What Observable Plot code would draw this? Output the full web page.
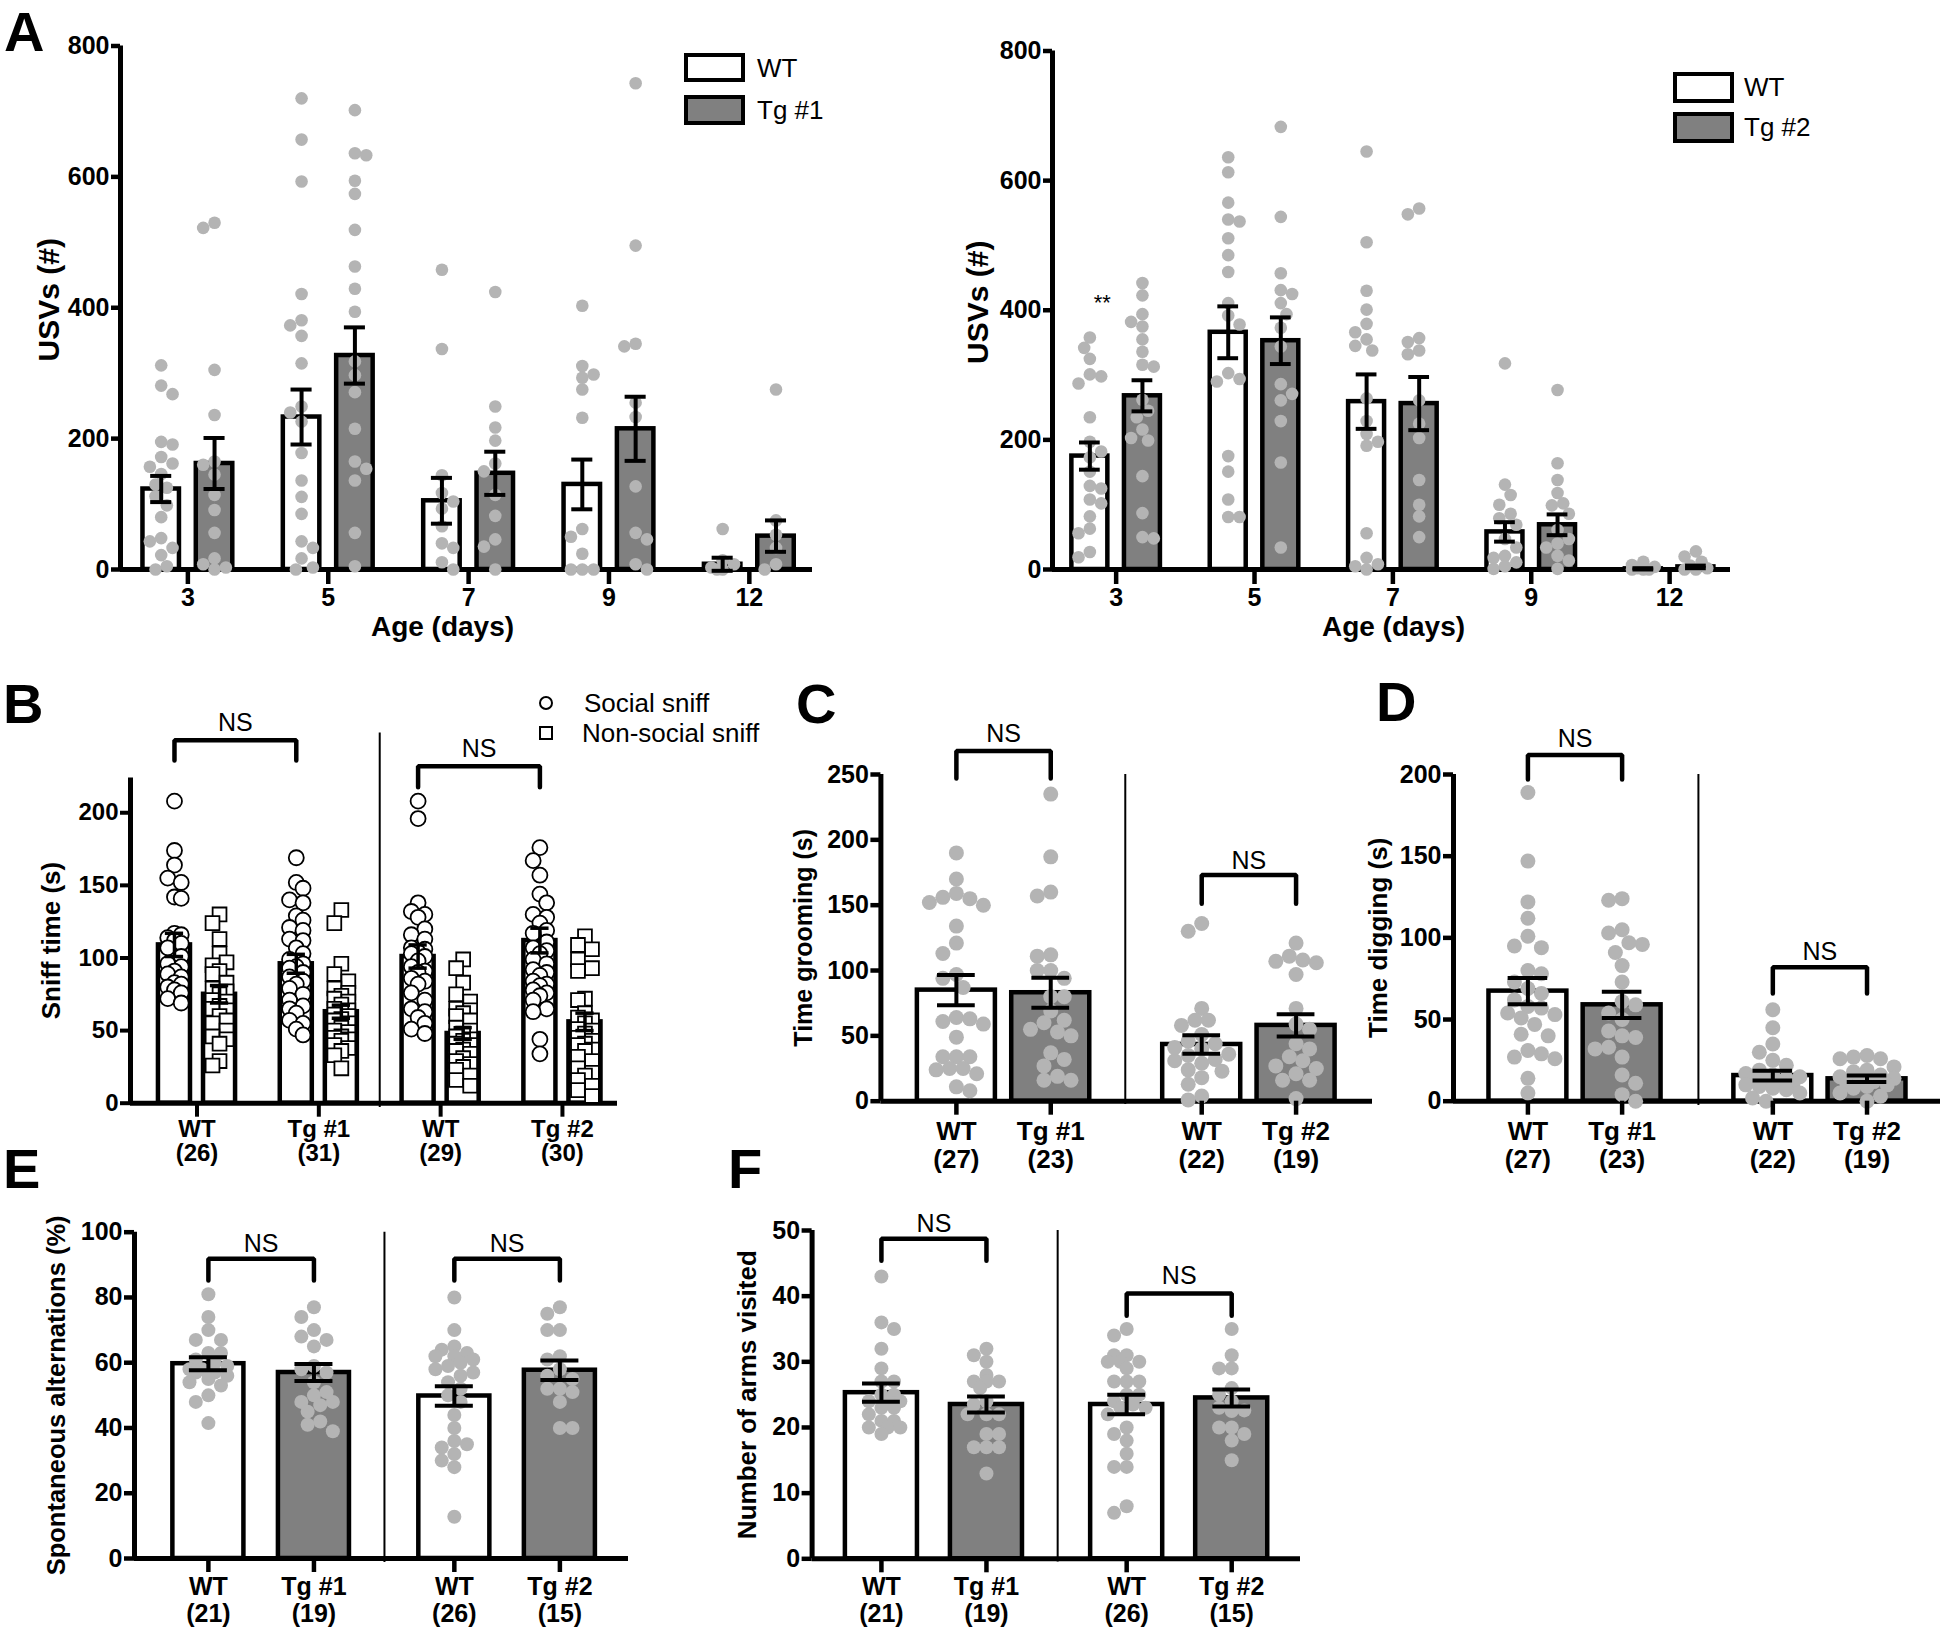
<!DOCTYPE html>
<html><head><meta charset="utf-8">
<script src="https://cdn.jsdelivr.net/npm/d3@7"></script>
<script src="https://cdn.jsdelivr.net/npm/@observablehq/plot@0.6"></script>
<style>
html,body{margin:0;padding:0;background:#fff;}
#fig{position:relative;width:1946px;height:1632px;overflow:hidden;font-family:"Liberation Sans",Arial,Helvetica,sans-serif;color:#000;}
.letter{position:absolute;font-weight:bold;font-size:56px;line-height:64px;}
.lgbox{position:absolute;box-sizing:border-box;border:4.5px solid #000;}
.lgtext{position:absolute;font-size:26px;white-space:nowrap;}
</style></head><body><div id="fig"></div>
<script>
// ---------------- DATA ----------------
// Panel A (left: WT vs Tg #1 ; right: WT vs Tg #2)
const ages = ["3", "5", "7", "9", "12"];
const a1WtMean = [123, 233, 105, 130, 8];
const a1WtSem = [20, 42, 35, 38, 10];
const a1TgMean = [162, 327, 147, 215, 51];
const a1TgSem = [39, 43, 33, 49, 24];
const a1WtPts = [
  [312, 281, 268, 195, 191, 172, 162, 157, 146, 130, 125, 112, 98, 80, 48, 43, 33, 22, 5, 0],
  [720, 657, 593, 421, 381, 373, 357, 315, 249, 240, 226, 178, 136, 111, 85, 43, 33, 17, 3, 0],
  [458, 337, 144, 117, 104, 93, 66, 40, 33, 11, 0],
  [403, 311, 298, 293, 275, 232, 62, 50, 24, 0, 0, 0],
  [62, 14, 8, 3, 0, 0]
];
const a1TgPts = [
  [530, 522, 305, 236, 165, 160, 145, 114, 91, 56, 17, 8, 3, 0],
  [702, 636, 633, 594, 574, 519, 463, 429, 394, 318, 297, 271, 215, 165, 154, 136, 56, 5],
  [424, 249, 217, 197, 162, 150, 114, 82, 46, 35, 0],
  [743, 495, 345, 341, 255, 233, 127, 56, 46, 8, 0],
  [275, 75, 53, 33, 8, 0]
];
const a2WtMean = [175, 366, 259, 58, 1];
const a2WtSem = [21, 40, 42, 15, 1];
const a2TgMean = [268, 353, 256, 69, 4];
const a2TgSem = [24, 36, 41, 16, 2];
const a2WtPts = [
  [358, 342, 325, 301, 298, 287, 235, 197, 182, 173, 151, 129, 125, 108, 102, 82, 63, 56, 27, 19],
  [636, 613, 566, 540, 537, 511, 485, 459, 411, 392, 378, 303, 294, 290, 175, 151, 108, 81, 81],
  [645, 505, 430, 401, 379, 366, 355, 345, 338, 264, 229, 209, 197, 191, 56, 18, 8, 5, 0],
  [318, 131, 115, 100, 86, 79, 69, 47, 34, 21, 18, 11, 5, 1],
  [12, 7, 4, 2, 0, 0, 0]
];
const a2TgPts = [
  [442, 423, 394, 382, 375, 355, 336, 316, 313, 262, 245, 235, 216, 203, 199, 144, 87, 50, 48],
  [683, 544, 457, 431, 425, 411, 394, 373, 344, 286, 271, 261, 229, 165, 34],
  [557, 548, 357, 351, 338, 332, 261, 225, 203, 138, 100, 82, 50],
  [277, 164, 138, 118, 102, 99, 86, 61, 47, 40, 34, 21, 14, 1],
  [28, 20, 12, 6, 2, 0, 0]
];

// Panel B (sniff time)
const bGroups = ["WT\n(26)", "Tg #1\n(31)", "WT\n(29)", "Tg #2\n(30)"];
const bSocialMean = [109, 96, 101, 112];
const bSocialSem = [8, 6.5, 8, 8.5];
const bNonMean = [75, 63, 48, 56];
const bNonSem = [6, 4.5, 4, 6];
const bSocialPts = [
  [208, 174, 164, 155, 152, 142, 141, 117, 116, 114, 112, 110, 107, 101, 96, 94, 91, 89, 87, 83, 82, 80, 78, 76, 72, 69],
  [169, 152, 148, 140, 138, 129, 126, 121, 119, 113, 112, 107, 103, 99, 96, 94, 93, 90, 87, 84, 82, 79, 75, 71, 67, 65, 62, 57, 55, 51, 47],
  [208, 196, 138, 132, 130, 128, 120, 116, 113, 107, 106, 104, 103, 101, 98, 94, 91, 90, 86, 84, 82, 76, 71, 65, 63, 59, 55, 51, 48],
  [176, 167, 157, 144, 138, 130, 128, 124, 119, 117, 111, 107, 105, 103, 99, 96, 92, 90, 88, 84, 82, 81, 78, 76, 74, 71, 65, 63, 44, 34]
];
const bNonPts = [
  [130, 124, 113, 103, 97, 95, 91, 89, 83, 79, 77, 75, 71, 70, 67, 65, 64, 60, 57, 55, 50, 46, 44, 41, 29, 26],
  [133, 124, 96, 89, 84, 79, 76, 74, 72, 70, 68, 65, 64, 63, 61, 60, 58, 57, 55, 52, 50, 49, 46, 45, 44, 43, 40, 38, 36, 33, 24],
  [99, 93, 83, 75, 70, 65, 64, 62, 60, 57, 52, 50, 48, 46, 44, 43, 41, 40, 37, 36, 34, 31, 29, 27, 25, 23, 19, 16, 12],
  [115, 109, 106, 99, 93, 91, 72, 71, 62, 59, 57, 55, 51, 50, 48, 45, 43, 41, 40, 37, 36, 32, 29, 24, 21, 19, 16, 12, 9, 5]
];

// Panel C (grooming) and D (digging)
const cdGroups = ["WT\n(27)", "Tg #1\n(23)", "WT\n(22)", "Tg #2\n(19)"];
const cMean = [85, 83, 43.4, 58];
const cSem = [11.5, 11.5, 7, 8.5];
const cPts = [
  [190, 170, 159, 156, 155, 152, 150, 134, 121, 113, 97, 94, 87, 64, 63, 61, 59, 49, 34, 34, 34, 25, 25, 24, 21, 11, 8],
  [235, 187, 160, 157, 112, 111, 100, 100, 94, 80, 80, 69, 62, 60, 55, 53, 50, 37, 32, 27, 19, 16, 16],
  [136, 130, 71, 62, 62, 58, 51, 46, 44, 41, 40, 36, 35, 32, 31, 29, 24, 23, 18, 13, 4, 1],
  [121, 111, 108, 107, 106, 97, 71, 59, 55, 44, 40, 34, 31, 27, 25, 21, 16, 16, 2]
];
const dMean = [67.4, 59, 15.7, 13.7];
const dSem = [8, 8, 3, 2];
const dPts = [
  [189, 147, 122, 112, 101, 95, 94, 80, 78, 73, 69, 66, 62, 58, 57, 54, 53, 51, 47, 41, 40, 31, 29, 27, 26, 14, 5],
  [124, 123, 105, 103, 97, 96, 91, 83, 73, 61, 59, 54, 50, 43, 40, 39, 33, 32, 27, 16, 11, 4, 0],
  [56, 45, 35, 30, 25, 22, 19, 17, 16, 15, 14, 14, 13, 12, 11, 10, 9, 8, 7, 5, 2, 0],
  [28, 27, 26, 26, 21, 19, 18, 16, 15, 14, 13, 12, 11, 10, 9, 8, 5, 3, 0]
];

// Panel E (alternations) and F (arms visited)
const efGroups = ["WT\n(21)", "Tg #1\n(19)", "WT\n(26)", "Tg #2\n(15)"];
const eMean = [59.7, 57, 49.8, 57.7];
const eSem = [2, 2.6, 3, 3];
const ePts = [
  [81, 74, 70, 67, 67, 63, 63, 61, 60, 59, 58, 58, 57, 57, 56, 55, 54, 53, 50, 48, 41.5],
  [77, 74, 70, 68, 67, 65, 59, 58, 57, 54, 51, 50, 48, 48, 47, 45, 42, 41, 39],
  [80, 70, 65, 64, 63, 62, 62, 61, 60, 59, 58, 57, 56, 54, 52, 50, 48, 44, 40, 36, 35, 34, 32, 30, 28, 12.8],
  [77, 75, 70, 70, 62, 61, 58, 56, 55, 52, 52, 51, 48, 40, 40]
];
const fMean = [25.3, 23.5, 23.5, 24.5];
const fSem = [1.4, 1.2, 1.5, 1.3];
const fPts = [
  [43, 36, 35, 32, 29, 27, 27, 25, 25, 24, 24, 24, 23, 23, 22, 21, 21, 20, 20, 20, 19],
  [32, 31, 30, 28, 27, 27, 27, 26, 24, 23.5, 22, 22, 22, 19, 19, 17, 17, 17, 13],
  [35, 34, 31, 31, 30, 30, 30, 29, 27, 27, 27, 25, 25, 24, 23.5, 23, 23, 22, 20, 19, 18, 16, 14, 14, 8, 7],
  [35, 31, 29, 29, 26, 25, 24, 23, 22.6, 22.5, 20, 20, 19, 18, 15]
];

// ---------------- DRAWING ----------------
const FONT = '"Liberation Sans", Arial, Helvetica, sans-serif';
const GRAY = "#808080", DOT = "#b4b4b4";
const fig = document.getElementById("fig");

function swarm(values, r, ky, maxHalf) {
  const n = values.length;
  const order = d3.range(n).sort((a, b) => values[b] - values[a] || a - b);
  const step = r * 0.9;
  const kmax = Math.max(0, Math.floor(maxHalf / step));
  const placed = [];
  const off = new Array(n).fill(0);
  const minD = 1.8 * r;
  order.forEach((i, j) => {
    const y = values[i] * ky;
    const sgn = j % 2 ? -1 : 1;
    const cands = [0];
    for (let k = 1; k <= kmax; k++) cands.push(sgn * k * step, -sgn * k * step);
    let chosen = null, bestC = 0, bestD = -1;
    for (const c of cands) {
      let md = Infinity;
      for (const p of placed) { const d = Math.hypot(p.x - c, p.y - y); if (d < md) md = d; }
      if (md >= minD) { chosen = c; break; }
      if (md > bestD) { bestD = md; bestC = c; }
    }
    if (chosen === null) chosen = bestC;
    placed.push({x: chosen, y});
    off[i] = chosen;
  });
  return off;
}

function panel(cfg) {
  const kx = (cfg.width - cfg.mL - cfg.mR) / (cfg.xDomain[1] - cfg.xDomain[0]);
  const ky = (cfg.height - cfg.mT - cfg.mB) / (cfg.yDomain[1] - cfg.yDomain[0]);
  const fills = new Map();
  const dotGroups = new Map();
  const errV = [], errH = [];
  for (const b of cfg.bars) {
    if (!fills.has(b.fill)) fills.set(b.fill, []);
    fills.get(b.fill).push({x1: b.x - cfg.barW / 2, x2: b.x + cfg.barW / 2, y: b.mean});
    const off = swarm(b.pts, b.r, ky, b.spread);
    const key = b.symbol + "|" + b.dotFill + "|" + b.dotStroke + "|" + b.r;
    if (!dotGroups.has(key)) dotGroups.set(key, {b, data: []});
    b.pts.forEach((v, i) => dotGroups.get(key).data.push({x: b.x + off[i] / kx, y: v}));
    errV.push({x: b.x, y1: b.mean - b.sem, y2: b.mean + b.sem});
    errH.push({y: b.mean - b.sem, x1: b.x - cfg.capW / 2, x2: b.x + cfg.capW / 2});
    errH.push({y: b.mean + b.sem, x1: b.x - cfg.capW / 2, x2: b.x + cfg.capW / 2});
  }
  const marks = [];
  for (const [fill, data] of fills)
    marks.push(Plot.rect(data, {x1: "x1", x2: "x2", y1: 0, y2: "y", fill, stroke: "black", strokeWidth: cfg.barStroke}));
  marks.push(Plot.ruleX([cfg.xDomain[0]], {y1: cfg.yDomain[0], y2: cfg.yDomain[1], strokeWidth: cfg.axisStroke}));
  marks.push(Plot.ruleY([cfg.yDomain[0]], {x1: cfg.xDomain[0], x2: cfg.xDomain[1], strokeWidth: cfg.axisStroke}));
  for (const {b, data} of dotGroups.values())
    marks.push(Plot.dot(data, {x: "x", y: "y", r: b.r, symbol: b.symbol, fill: b.dotFill, stroke: b.dotStroke, strokeWidth: b.dotStroke === "none" ? 0 : 1.8}));
  marks.push(Plot.ruleX(errV, {x: "x", y1: "y1", y2: "y2", strokeWidth: cfg.errStroke}));
  marks.push(Plot.ruleY(errH, {y: "y", x1: "x1", x2: "x2", strokeWidth: cfg.errStroke}));
  const lab = new Map(cfg.xTicks.map((t, i) => [t, cfg.xLabels[i]]));
  marks.push(Plot.axisY({ticks: cfg.yTicks, tickSize: cfg.yTickLen, tickPadding: 2, tickFormat: d => String(d),
    fontSize: cfg.tickFont, fontWeight: "bold", strokeWidth: cfg.tickStroke, label: null}));
  marks.push(Plot.axisX({ticks: cfg.xTicks, tickSize: cfg.xTickLen, tickPadding: cfg.xTickPad, tickFormat: d => lab.get(d),
    fontSize: cfg.xFont, fontWeight: "bold", strokeWidth: cfg.tickStroke, lineHeight: cfg.lineHeight, label: null}));
  if (cfg.sep) marks.push(Plot.ruleX([cfg.sep.x], {y1: cfg.sep.y1, y2: cfg.sep.y2, strokeWidth: 2}));
  for (const br of cfg.brackets || []) {
    marks.push(Plot.line([[br.x1, br.leg], [br.x1, br.top], [br.x2, br.top], [br.x2, br.leg]],
      {x: d => d[0], y: d => d[1], strokeWidth: 4.5, strokeLinejoin: "miter"}));
    marks.push(Plot.text([{x: (br.x1 + br.x2) / 2, y: br.textY}], {x: "x", y: "y", text: () => "NS", fontSize: 25}));
  }
  marks.push(Plot.text([cfg.title], {text: d => d, frameAnchor: "left", textAnchor: "middle", lineAnchor: "middle",
    rotate: -90, dx: cfg.titleDx, dy: cfg.titleDy || 0, fontSize: cfg.titleSize, fontWeight: "bold"}));
  for (const m of cfg.extra || []) marks.push(m);
  const svg = Plot.plot({
    width: cfg.width, height: cfg.height,
    marginLeft: cfg.mL, marginRight: cfg.mR, marginTop: cfg.mT, marginBottom: cfg.mB,
    x: {type: "linear", domain: cfg.xDomain},
    y: {type: "linear", domain: cfg.yDomain},
    style: {fontFamily: FONT, background: "none", overflow: "visible", color: "black"},
    marks
  });
  svg.style.position = "absolute";
  svg.style.left = cfg.left + "px";
  svg.style.top = cfg.top + "px";
  svg.style.maxWidth = "none";
  fig.appendChild(svg);
}

function grayBar(x, mean, sem, pts, fill, r, spread) {
  return {x, mean, sem, pts, fill, r, spread, symbol: "circle", dotFill: DOT, dotStroke: "none"};
}

// ---- Panel A ----
function panelA(opts) {
  const bars = [];
  ages.forEach((a, i) => {
    bars.push(grayBar(i - 0.19, opts.wtMean[i], opts.wtSem[i], opts.wtPts[i], "white", 6.3, 14));
    bars.push(grayBar(i + 0.19, opts.tgMean[i], opts.tgSem[i], opts.tgPts[i], GRAY, 6.3, 14));
  });
  panel({
    left: opts.left, top: 0, width: opts.width, height: 660,
    mL: opts.mL, mR: opts.mR, mT: opts.mT, mB: 91,
    xDomain: opts.xDomain, yDomain: [0, 800], yTicks: [0, 200, 400, 600, 800],
    xTicks: ages.map((a, i) => i), xLabels: ages,
    barW: 0.26, capW: 0.15, bars,
    barStroke: 4.5, axisStroke: 5, errStroke: 4, tickStroke: 4.5,
    yTickLen: 9, xTickLen: 15, xTickPad: 4, tickFont: 25, xFont: 25, lineHeight: 1,
    title: "USVs (#)", titleDx: opts.titleDx, titleDy: -8, titleSize: 30,
    extra: [
      Plot.text(["Age (days)"], {text: d => d, frameAnchor: "bottom", textAnchor: "middle", dy: 66, dx: opts.ageDx, fontSize: 28, fontWeight: "bold"}),
      ...(opts.extra || [])
    ]
  });
}
panelA({left: 0, width: 900, mL: 120, mR: 88, mT: 45.5, xDomain: [-0.48, 4.45], titleDx: -71, ageDx: -24,
  wtMean: a1WtMean, wtSem: a1WtSem, tgMean: a1TgMean, tgSem: a1TgSem, wtPts: a1WtPts, tgPts: a1TgPts});
panelA({left: 960, width: 986, mL: 92, mR: 216, mT: 50.5, xDomain: [-0.46, 4.44], titleDx: -74, ageDx: 2,
  wtMean: a2WtMean, wtSem: a2WtSem, tgMean: a2TgMean, tgSem: a2TgSem, wtPts: a2WtPts, tgPts: a2TgPts,
  extra: [Plot.text(["**"], {text: d => d, x: () => -0.1, y: () => 412, fontSize: 22})]});

// ---- Panel B ----
{
  const bars = [];
  bGroups.forEach((g, i) => {
    bars.push({x: i - 0.185, mean: bSocialMean[i], sem: bSocialSem[i], pts: bSocialPts[i], fill: "white", r: 7.5, spread: 11,
      symbol: "circle", dotFill: "white", dotStroke: "black"});
    bars.push({x: i + 0.185, mean: bNonMean[i], sem: bNonSem[i], pts: bNonPts[i], fill: "white", r: 7.8, spread: 11,
      symbol: "square", dotFill: "white", dotStroke: "black"});
  });
  panel({
    left: 0, top: 680, width: 780, height: 520, mL: 130, mR: 163, mT: 97.4, mB: 97.3,
    xDomain: [-0.546, 3.452], yDomain: [0, 224], yTicks: [0, 50, 100, 150, 200],
    xTicks: [0, 1, 2, 3], xLabels: bGroups,
    barW: 0.263, capW: 0.15, bars,
    barStroke: 4.5, axisStroke: 5, errStroke: 3.5, tickStroke: 4,
    yTickLen: 10, xTickLen: 14, xTickPad: 3, tickFont: 24, xFont: 24, lineHeight: 1.0,
    title: "Sniff time (s)", titleDx: -79, titleSize: 26,
    sep: {x: 1.5, y1: -3, y2: 255},
    brackets: [
      {x1: -0.185, x2: 0.815, top: 250, leg: 236, textY: 262},
      {x1: 1.815, x2: 2.815, top: 232, leg: 217.6, textY: 244}
    ]
  });
}

// ---- Panels C & D ----
function pairPanel(opts) {
  const slots = opts.slots;
  const bars = opts.mean.map((m, i) => grayBar(slots[i], m, opts.sem[i], opts.pts[i], i % 2 ? GRAY : "white", opts.r, opts.spread));
  panel({
    left: opts.left, top: opts.top, width: opts.width, height: opts.height,
    mL: opts.mL, mR: opts.mR, mT: opts.mT, mB: opts.mB,
    xDomain: opts.xDomain, yDomain: opts.yDomain, yTicks: opts.yTicks,
    xTicks: slots, xLabels: opts.labels,
    barW: opts.barW, capW: opts.capW, bars,
    barStroke: 4.5, axisStroke: 5, errStroke: 4, tickStroke: 4.5,
    yTickLen: 10, xTickLen: 14, xTickPad: opts.xTickPad ?? 4, tickFont: opts.tickFont, xFont: opts.xFont, lineHeight: opts.lineHeight,
    title: opts.title, titleDx: opts.titleDx, titleSize: opts.titleSize,
    sep: opts.sep,
    brackets: opts.brackets
  });
}
const cdSlots = [0, 1, 2.6, 3.6];
pairPanel({left: 760, top: 680, width: 640, height: 520, mL: 120.4, mR: 28, mT: 94, mB: 99.3,
  slots: cdSlots, xDomain: [-0.80, 4.41], yDomain: [0, 250], yTicks: [0, 50, 100, 150, 200, 250],
  labels: cdGroups, mean: cMean, sem: cSem, pts: cPts, r: 7.5, spread: 28, barW: 0.827, capW: 0.4,
  tickFont: 25, xFont: 26, lineHeight: 1.1, title: "Time grooming (s)", titleDx: -77, titleSize: 25,
  sep: {x: 1.79, y1: -2.6, y2: 250},
  brackets: [{x1: 0, x2: 1, top: 268, leg: 247, textY: 281}, {x1: 2.6, x2: 3.6, top: 173, leg: 151, textY: 184}]});
pairPanel({left: 1340, top: 680, width: 606, height: 520, mL: 113, mR: 6, mT: 94, mB: 99.3,
  slots: cdSlots, xDomain: [-0.79, 4.38], yDomain: [0, 200], yTicks: [0, 50, 100, 150, 200],
  labels: cdGroups, mean: dMean, sem: dSem, pts: dPts, r: 7.5, spread: 28, barW: 0.827, capW: 0.42,
  tickFont: 25, xFont: 26, lineHeight: 1.1, title: "Time digging (s)", titleDx: -75, titleSize: 26,
  sep: {x: 1.81, y1: -2.7, y2: 200},
  brackets: [{x1: 0, x2: 1, top: 212, leg: 197, textY: 222}, {x1: 2.6, x2: 3.6, top: 82, leg: 66, textY: 91.6}]});

// ---- Panels E & F ----
pairPanel({left: 0, top: 1200, width: 700, height: 432, mL: 134, mR: 72, mT: 31.7, mB: 74,
  slots: [0, 1, 2.33, 3.33], xDomain: [-0.70, 3.98], yDomain: [0, 100], yTicks: [0, 20, 40, 60, 80, 100],
  labels: efGroups, mean: eMean, sem: eSem, pts: ePts, r: 7, spread: 24, barW: 0.673, capW: 0.36,
  tickFont: 25, xFont: 25, lineHeight: 1.08, xTickPad: 3, title: "Spontaneous alternations (%)", titleDx: -78, titleSize: 25.5,
  sep: {x: 1.668, y1: -1.2, y2: 100},
  brackets: [{x1: 0, x2: 1, top: 91.9, leg: 85.2, textY: 96.5}, {x1: 2.33, x2: 3.33, top: 91.9, leg: 85.2, textY: 96.5}]});
pairPanel({left: 700, top: 1200, width: 640, height: 432, mL: 111.6, mR: 40, mT: 30, mB: 73.7,
  slots: [0, 1, 2.335, 3.335], xDomain: [-0.66, 3.99], yDomain: [0, 50], yTicks: [0, 10, 20, 30, 40, 50],
  labels: efGroups, mean: fMean, sem: fSem, pts: fPts, r: 7, spread: 24, barW: 0.686, capW: 0.36,
  tickFont: 25, xFont: 25, lineHeight: 1.08, xTickPad: 3, title: "Number of arms visited", titleDx: -64.6, titleSize: 26,
  sep: {x: 1.678, y1: -0.5, y2: 50},
  brackets: [{x1: 0, x2: 1, top: 48.75, leg: 45.4, textY: 51}, {x1: 2.335, x2: 3.335, top: 40.4, leg: 37.0, textY: 43.1}]});

// ---- Panel letters and legends (HTML) ----
function addDiv(cls, text, css) {
  const d = document.createElement("div");
  d.className = cls;
  if (text) d.textContent = text;
  Object.assign(d.style, css);
  fig.appendChild(d);
}
[["A", 4, 0], ["B", 3, 672], ["C", 796, 672], ["D", 1376, 670], ["E", 3, 1137], ["F", 728, 1137]]
  .forEach(([t, x, y]) => addDiv("letter", t, {left: x + "px", top: y + "px"}));

// legend A-left
addDiv("lgbox", "", {left: "684px", top: "53px", width: "61px", height: "29px", background: "#fff"});
addDiv("lgbox", "", {left: "684px", top: "95px", width: "61px", height: "30px", background: GRAY});
addDiv("lgtext", "WT", {left: "757px", top: "53px", lineHeight: "30px"});
addDiv("lgtext", "Tg #1", {left: "757px", top: "95px", lineHeight: "30px"});
// legend A-right
addDiv("lgbox", "", {left: "1673px", top: "72px", width: "61px", height: "31px", background: "#fff"});
addDiv("lgbox", "", {left: "1673px", top: "112px", width: "61px", height: "31px", background: GRAY});
addDiv("lgtext", "WT", {left: "1744px", top: "72px", lineHeight: "31px"});
addDiv("lgtext", "Tg #2", {left: "1744px", top: "112px", lineHeight: "31px"});
// legend B
addDiv("lgbox", "", {left: "539px", top: "696px", width: "14px", height: "14px", borderWidth: "2px", borderRadius: "50%", background: "#fff"});
addDiv("lgbox", "", {left: "539px", top: "726px", width: "14px", height: "14px", borderWidth: "2px", background: "#fff"});
addDiv("lgtext", "Social sniff", {left: "584px", top: "688px", lineHeight: "30px"});
addDiv("lgtext", "Non-social sniff", {left: "582px", top: "718px", lineHeight: "30px"});
</script></body></html>
